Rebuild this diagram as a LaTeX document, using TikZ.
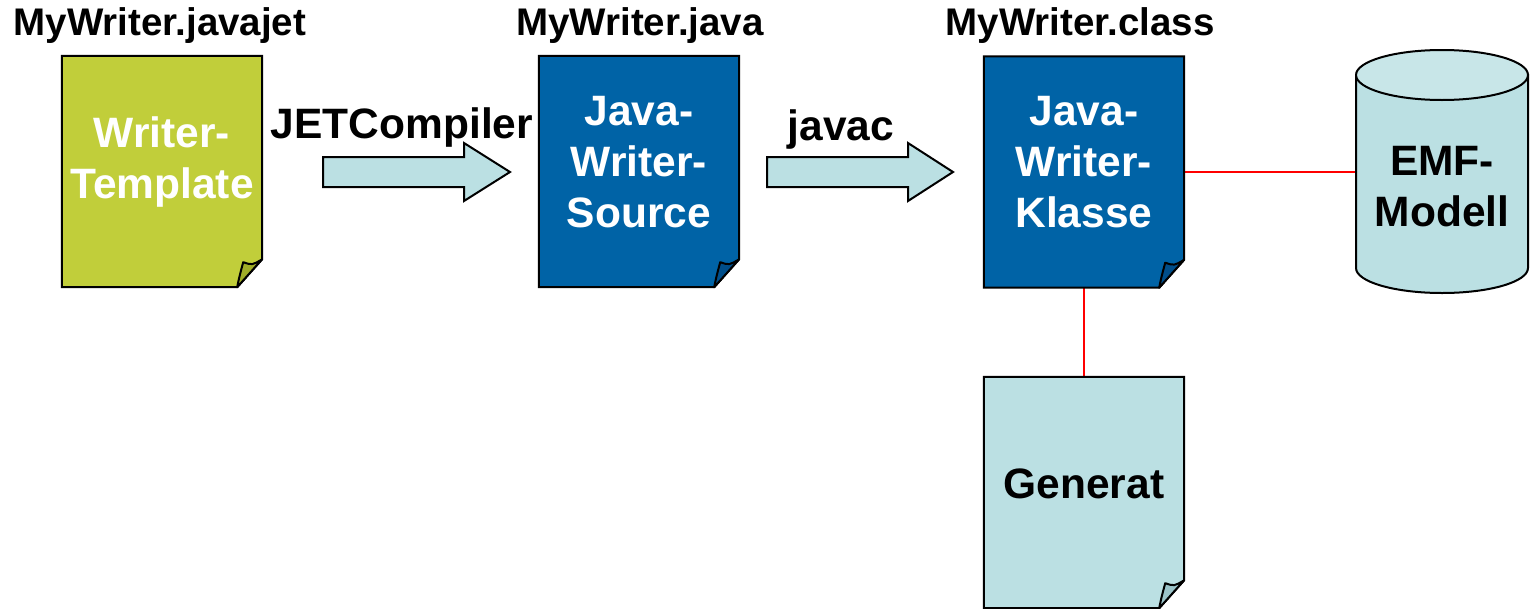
\documentclass[tikz,border=0pt]{standalone}
\usepackage{fontspec}
\setmainfont{Liberation Sans}
\usetikzlibrary{calc}
\definecolor{tplfill}{RGB}{193,206,58}
\definecolor{tplflap}{RGB}{160,173,40}
\definecolor{bluefill}{RGB}{0,99,166}
\definecolor{blueflap}{RGB}{0,78,138}
\definecolor{lightfill}{RGB}{187,224,227}
\definecolor{lightflap}{RGB}{155,196,201}
\definecolor{lighttop}{RGB}{200,230,232}
\newcommand{\docshape}[3]{%
  \draw[outline,fill=#2] (#1.north west) -- (#1.north east)
     -- ($(#1.south east)+(0,-28)$) -- ($(#1.south east)+(-25,0)$)
     -- (#1.south west) -- cycle;
  \draw[outline,fill=#3,line join=round] ($(#1.south east)+(-25,0)$)
     .. controls ($(#1.south east)+(-23,-10)$) .. ($(#1.south east)+(-19,-25)$)
     .. controls ($(#1.south east)+(-10,-22)$) .. ($(#1.south east)+(0,-28)$) -- cycle;
}
\begin{document}
\begin{tikzpicture}[x=1pt,y=-1pt,
  outline/.style={draw=black,line width=2pt,line join=miter},
  docnode/.style={draw=none,minimum width=200pt,minimum height=231pt,inner sep=0pt},
  toplabel/.style={font=\bfseries\fontsize{38.5}{46}\selectfont,inner sep=0pt},
  intext/.style={font=\bfseries\fontsize{42.5}{51}\selectfont,align=center,inner sep=0pt},
  connector/.style={draw=red,line width=2pt},
  flowarrow/.style={outline,fill=lightfill}]
\useasboundingbox (0,0) rectangle (1530,608);

% document nodes
\node[docnode] (tpl) at (162,171.5) {};
\node[docnode] (src) at (639,171.5) {};
\node[docnode] (cls) at (1084,172) {};
\node[docnode] (gen) at (1084,492.5) {};
\node[draw=none,minimum width=172pt,minimum height=244pt,inner sep=0pt] (emf) at (1442,172) {};

% connectors (drawn first, behind shapes)
\draw[connector] (cls.east) -- (emf.west);
\draw[connector] (cls.south) -- (gen.north);

\docshape{tpl}{tplfill}{tplflap}
\docshape{src}{bluefill}{blueflap}
\docshape{cls}{bluefill}{blueflap}
\docshape{gen}{lightfill}{lightflap}

% cylinder
\draw[outline,fill=lightfill] (1356,75) -- (1356,268)
   arc[start angle=180,end angle=0,x radius=86,y radius=25]
   -- (1528,75) -- cycle;
\draw[outline,fill=lighttop] (1442,75) ellipse [x radius=86,y radius=25];

% flow arrows
\draw[flowarrow] (323,157) -- (464,157) -- (464,143) -- (510,172) -- (464,201) -- (464,187) -- (323,187) -- cycle;
\draw[flowarrow] (767,157) -- (908,157) -- (908,143) -- (953,172) -- (908,201) -- (908,187) -- (767,187) -- cycle;

% texts
\node[intext,text=white] (tpltext) at (162,162) {Writer-\\Template};
\node[intext,text=white] (srctext) at (639,162) {Java-\\Writer-\\Source};
\node[intext,text=white] (clstext) at (1084,162) {Java-\\Writer-\\Klasse};
\node[intext] (gentext) at (1084,484) {Generat};
\node[intext] (emftext) at (1442,187) {EMF-\\Modell};

\node[toplabel] (tpllabel) at (160,26) {MyWriter.javajet};
\node[toplabel] (srclabel) at (640,26) {MyWriter.java};
\node[toplabel] (clslabel) at (1080,26) {MyWriter.class};
\node[intext] (jetlabel) at (402,128) {JETCompiler};
\node[intext] (javaclabel) at (841,130) {javac};
\end{tikzpicture}
\end{document}
